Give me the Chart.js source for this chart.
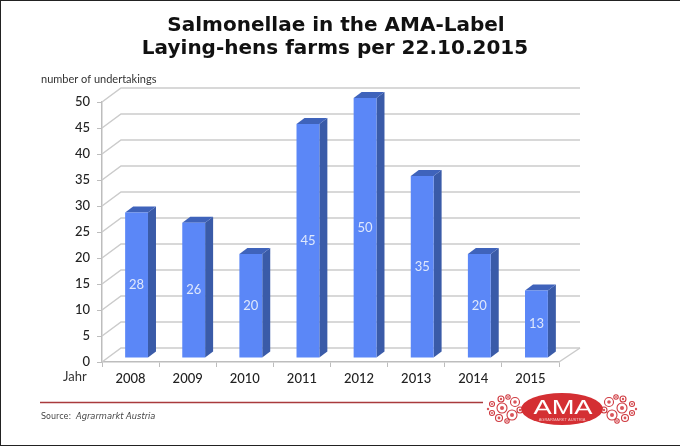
<!DOCTYPE html>
<html>
<head>
<meta charset="utf-8">
<style>
    html, body { margin: 0; padding: 0; background: #fff; }
    #wrap { position: relative; width: 680px; height: 447px; overflow: hidden; }
    #chart { display: block; }
    #frame { position: absolute; left: 0; top: 0; width: 679px; height: 444px; border-left: 1px solid #222; border-top: 1px solid #222; border-bottom: 1px solid #222; pointer-events: none; }
</style>
<script src="https://cdn.jsdelivr.net/npm/chart.js@4"></script>
</head>
<body>
<div id="wrap">
    <canvas id="chart" width="680" height="447"></canvas>
    <div id="frame"></div>
</div>
<script>
const years = ['2008', '2009', '2010', '2011', '2012', '2013', '2014', '2015'];
const undertakings = [28, 26, 20, 45, 50, 35, 20, 13];
const titleLines = ['Salmonellae in the AMA-Label', 'Laying-hens farms per 22.10.2015'];

const labelFont = 'Lato, "Open Sans", sans-serif';
const wallDx = 19, wallDy = -14;   // floor depth of the fake 3D box
const barDx = 6, barDy = -4;       // bars stand a little behind the front edge
const sideDx = 8, sideDy = -6;     // bar depth

// back wall and floor, behind the bars
const wallPlugin = {
    id: 'wall',
    beforeDatasetsDraw(chart) {
        const { ctx, scales: { x, y } } = chart;
        const left = x.left, right = x.right;
        ctx.save();
        ctx.strokeStyle = '#cbcbcb';
        ctx.lineWidth = 1.5;
        y.ticks.forEach(t => {
            const py = y.getPixelForValue(t.value);
            ctx.beginPath();
            ctx.moveTo(left, py);
            ctx.lineTo(left + wallDx, py + wallDy);
            ctx.lineTo(right + wallDx + 2, py + wallDy);
            ctx.stroke();
        });
        const y0 = y.getPixelForValue(0);
        ctx.beginPath();
        ctx.moveTo(right, y0);
        ctx.lineTo(right + wallDx + 2, y0 + wallDy);
        ctx.stroke();
        ctx.restore();
    }
};

// shift bars back and put the side and top faces on them
const boxPlugin = {
    id: 'box',
    beforeDatasetDraw(chart) {
        const ctx = chart.ctx;
        ctx.save();
        ctx.translate(barDx, barDy);
        chart.getDatasetMeta(0).data.forEach(bar => {
            const l = bar.x - bar.width / 2, r = bar.x + bar.width / 2;
            ctx.fillStyle = '#3a5ba8';
            ctx.beginPath();
            ctx.moveTo(r, bar.y);
            ctx.lineTo(r + sideDx, bar.y + sideDy);
            ctx.lineTo(r + sideDx, bar.base + sideDy);
            ctx.lineTo(r, bar.base);
            ctx.closePath();
            ctx.fill();
            ctx.fillStyle = '#3f63bb';
            ctx.beginPath();
            ctx.moveTo(l, bar.y);
            ctx.lineTo(l + sideDx, bar.y + sideDy);
            ctx.lineTo(r + sideDx, bar.y + sideDy);
            ctx.lineTo(r, bar.y);
            ctx.closePath();
            ctx.fill();
        });
    },
    afterDatasetDraw(chart) {
        const ctx = chart.ctx;
        ctx.fillStyle = '#dfe8fc';
        ctx.font = '13px ' + labelFont;
        ctx.textAlign = 'center';
        ctx.textBaseline = 'middle';
        chart.getDatasetMeta(0).data.forEach((bar, i) => {
            ctx.fillText(undertakings[i], bar.x, (bar.y + bar.base) / 2);
        });
        ctx.restore();
    }
};

function drawLogo(ctx) {
    const cx = 562, cy = 409;
    ctx.save();
    // side ornaments: little petals around two flowers
    ctx.strokeStyle = '#cf3a40';
    ctx.fillStyle = '#d9555a';
    ctx.lineWidth = 1.1;
    [-1, 1].forEach(side => {
        [[47, -7, 4.5], [50, 6, 5], [60, -1, 5], [61, -10, 3], [63, 9, 3.5], [42, 1, 3], [70, -5, 2.5], [70, 4, 2.5], [54, -12, 2.2], [55, 12, 2.2]].forEach(([dx, dy, r]) => {
            ctx.beginPath();
            ctx.arc(cx + side * dx, cy + dy, r, 0, Math.PI * 2);
            ctx.stroke();
            ctx.beginPath();
            ctx.arc(cx + side * dx, cy + dy, r * 0.4, 0, Math.PI * 2);
            ctx.fill();
        });
        ctx.beginPath();
        ctx.arc(cx + side * 74, cy, 1.2, 0, Math.PI * 2);
        ctx.fill();
    });
    // middle
    ctx.fillStyle = '#d42f33';
    ctx.beginPath();
    ctx.ellipse(cx, cy, 41, 16, 0, 0, Math.PI * 2);
    ctx.fill();
    ctx.fillStyle = '#fff';
    ctx.textAlign = 'center';
    ctx.textBaseline = 'alphabetic';
    ctx.font = '21px "Liberation Sans", sans-serif';
    ctx.save();
    ctx.translate(cx + 1, cy + 5);
    ctx.scale(1.3, 1);
    ctx.fillText('AMA', 0, 0);
    ctx.restore();
    ctx.fillStyle = '#f3c4c4';
    ctx.font = '4px "Liberation Sans", sans-serif';
    ctx.fillText('AGRARMARKT AUSTRIA', cx, cy + 11.5);
    ctx.restore();
}

// title, notes, rule and logo
const pageTextPlugin = {
    id: 'pageText',
    afterDraw(chart) {
        const ctx = chart.ctx;
        ctx.save();
        ctx.fillStyle = '#111';
        ctx.textAlign = 'center';
        ctx.textBaseline = 'alphabetic';
        ctx.font = 'bold 20px "DejaVu Sans", sans-serif';
        ctx.fillText(titleLines[0], 336, 31);
        ctx.fillText(titleLines[1], 335, 54);

        ctx.textAlign = 'left';
        ctx.fillStyle = '#333';
        ctx.font = '11px ' + labelFont;
        ctx.fillText('number of undertakings', 41, 83);
        ctx.font = '13px ' + labelFont;
        ctx.fillText('Jahr', 63, 381);

        ctx.strokeStyle = '#a93a3c';
        ctx.lineWidth = 1.4;
        ctx.beginPath();
        ctx.moveTo(40, 402.5);
        ctx.lineTo(483, 402.5);
        ctx.stroke();

        ctx.fillStyle = '#444';
        ctx.font = '8px "DejaVu Sans", sans-serif';
        ctx.fillText('Source:', 41, 419);
        ctx.font = 'italic 8.3px "DejaVu Sans", sans-serif';
        ctx.fillText('Agrarmarkt Austria', 76, 419);
        ctx.restore();
        drawLogo(ctx);
    }
};

new Chart(document.getElementById('chart'), {
    type: 'bar',
    data: {
        labels: years,
        datasets: [{
            data: undertakings,
            backgroundColor: '#5b87f7',
            borderWidth: 0,
            barPercentage: 0.4,
            categoryPercentage: 1,
            clip: false
        }]
    },
    plugins: [wallPlugin, boxPlugin, pageTextPlugin],
    options: {
        responsive: false,
        animation: false,
        layout: { padding: { left: 0, top: 102, right: 121, bottom: 0 } },
        plugins: { legend: { display: false }, tooltip: { enabled: false } },
        scales: {
            x: {
                afterFit: scale => { scale.height = 85; },
                border: { color: '#bdbdbd', width: 1.5 },
                grid: { drawOnChartArea: false, color: '#bdbdbd', tickLength: 5 },
                ticks: { color: '#222', font: { family: labelFont, size: 13, weight: '500' }, padding: 4, maxRotation: 0 }
            },
            y: {
                min: 0,
                max: 50,
                afterFit: scale => { scale.width = 102; },
                border: { color: '#bdbdbd', width: 1.5 },
                grid: { drawOnChartArea: false, color: '#bdbdbd', tickLength: 5 },
                ticks: { stepSize: 5, color: '#222', font: { family: labelFont, size: 13, weight: '500' }, padding: 7 }
            }
        }
    }
});
</script>
</body>
</html>
